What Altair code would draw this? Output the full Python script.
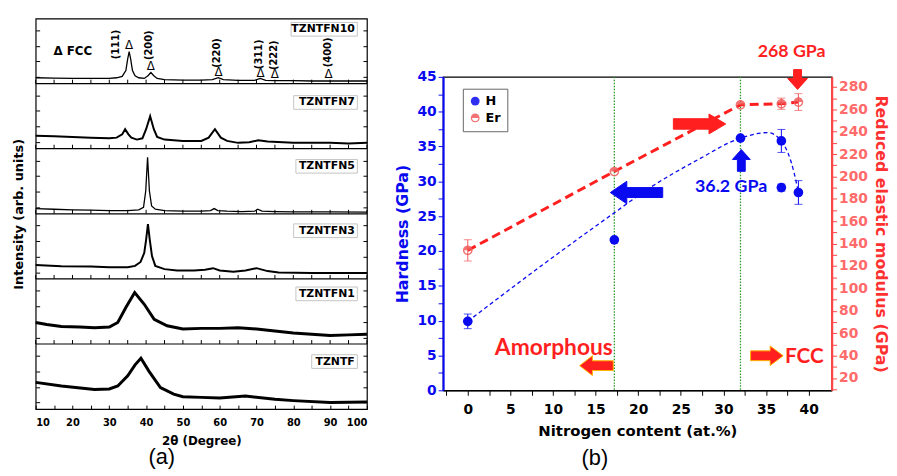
import altair as alt
import pandas as pd

# ---------------- panel (a): XRD patterns ----------------
samples = ["TZNTF", "TZNTFN1", "TZNTFN3", "TZNTFN5", "TZNTFN7", "TZNTFN10"]  # bottom -> top
trace_width = [3.0, 3.0, 2.0, 1.3, 2.0, 1.3]

theta_tzntf = [10, 17, 26, 30, 32.3, 35, 37, 38.6, 40.8, 43.9, 47.5, 50, 55, 60, 67, 75, 80, 90, 100]
int_tzntf = [.41, .355, .30, .31, .355, .51, .68, .78, .58, .33, .23, .19, .18, .17, .2, .15, .13, .1, .11]

theta_n1 = [10, 13, 17, 22, 26, 30, 32.3, 34.5, 36.9, 39.5, 42.2, 45.7, 50, 55, 60, 65, 70, 75, 80, 85, 90, 95, 100]
int_n1 = [.33, .3, .27, .26, .25, .26, .33, .56, .79, .61, .38, .28, .23, .24, .24, .25, .23, .2, .17, .15, .13, .14, .15]

theta_n3 = [10, 17, 25, 30, 35, 37, 38.5, 39.5, 40.0, 40.5, 41.0, 41.6, 42.5, 45, 48.4, 53, 56, 58.2, 60, 63.7, 67, 70, 73, 76, 85, 100]
int_n3 = [.215, .195, .19, .18, .18, .2, .26, .4, .6, .84, .6, .35, .2, .15, .13, .13, .14, .165, .13, .11, .13, .165, .12, .1, .09, .09]

theta_n5 = [10, 15, 20, 25, 30, 35, 38, 39.3, 39.9, 40.4, 40.9, 41.5, 42.5, 45, 50, 55, 57.5, 58.5, 59.5, 62, 66, 69.5, 70.3, 71.5, 75, 80, 90, 100]
int_n5 = [.08, .07, .06, .055, .05, .05, .06, .1, .35, .87, .35, .12, .07, .05, .04, .04, .05, .08, .05, .04, .035, .04, .07, .04, .035, .03, .03, .025]

theta_n7 = [10, 15, 20, 25, 30, 32, 33.5, 34.3, 35.2, 36, 37.5, 39, 40, 41.1, 42.1, 43, 45, 50, 55, 57, 58.7, 60.3, 62, 65, 68, 70.5, 73, 80, 85, 90, 95, 100]
int_n7 = [.2, .19, .18, .17, .16, .17, .22, .3, .22, .17, .14, .16, .3, .5, .3, .18, .14, .12, .12, .17, .3, .17, .12, .09, .1, .13, .11, .09, .09, .09, .08, .09]

theta_n10 = [10, 15, 20, 25, 30, 32, 33.5, 34.5, 35.0, 35.4, 35.8, 36.3, 37, 38, 39.5, 40.5, 41.3, 42.1, 43, 45, 50, 55, 58, 59.6, 61, 65, 69.5, 71, 72.5, 75, 80, 85, 90, 95, 100]
int_n10 = [.09, .085, .08, .08, .08, .09, .11, .2, .38, .49, .38, .2, .12, .09, .08, .12, .17, .12, .08, .06, .055, .055, .06, .09, .06, .05, .05, .08, .05, .045, .045, .04, .04, .04, .04]

theta_all = [theta_tzntf, theta_n1, theta_n3, theta_n5, theta_n7, theta_n10]
int_all = [int_tzntf, int_n1, int_n3, int_n5, int_n7, int_n10]

label_theta = 96.7
label_frac = [0.73, 0.77, 0.74, 0.73, 0.71, 0.835]
box_left_theta = [85.0, 80.7, 80.1, 80.7, 80.1, 79.4]
box_right_theta = 97.4
box_half = 0.105

hkl = ["(111)", "(200)", "(220)", "(311)", "(222)", "(400)"]
hkl_theta = [31.8, 40.9, 59.4, 70.7, 74.8, 89.5]
hkl_frac = [0.60, 0.59, 0.47, 0.45, 0.435, 0.48]
tri_theta = [35.4, 41.3, 59.7, 71.1, 75.0, 89.6]
tri_frac = [0.60, 0.27, 0.18, 0.17, 0.14, 0.14]

sep_values = [1, 2, 3, 4, 5]
theta_ticks = list(range(10, 101, 5))
band_tick_frac = [0.1, 0.34, 0.58, 0.82]

lab_df = pd.DataFrame({"name": samples, "theta": [label_theta] * 6,
                       "pos": [i + f for i, f in enumerate(label_frac)]})
box_df = pd.DataFrame({"x1": box_left_theta, "x2": [box_right_theta] * 6,
                       "y1": [i + f - box_half for i, f in enumerate(label_frac)],
                       "y2": [i + f + box_half for i, f in enumerate(label_frac)]})
hkl_df = pd.DataFrame({"t": hkl, "theta": hkl_theta, "pos": [5 + f for f in hkl_frac]})
tri_df = pd.DataFrame({"t": ["Δ"] * 6, "theta": tri_theta, "pos": [5 + f for f in tri_frac]})
fcc_df = pd.DataFrame({"t": ["Δ FCC"], "theta": [20.1], "pos": [5.5]})
sep_df = pd.DataFrame({"b": sep_values})
septick_df = pd.DataFrame([{"theta": t, "b": b} for b in sep_values for t in theta_ticks])
ytick_vals = [i + f for i in range(6) for f in band_tick_frac]

FA = "DejaVu Sans"
xa = alt.Scale(domain=[10, 100], nice=False, zero=False)
ya = alt.Scale(domain=[0, 6], nice=False, zero=False)

a_layers = []
for i, s in enumerate(samples):
    tdf = pd.DataFrame({"theta": theta_all[i], "pos": [i + f for f in int_all[i]]})
    if i == 0:
        xax = alt.Axis(values=theta_ticks, labelExpr="datum.value % 10 == 0 ? datum.label : ''",
                       offset=-4, tickSize=4, domain=False, tickColor="black",
                       labelFont=FA, labelFontSize=10, labelFontWeight="bold", labelColor="black",
                       labelPadding=9, title="2θ (Degree)", titleFont=FA, titleFontSize=12,
                       titleFontWeight="bold", titlePadding=8)
        yax = alt.Axis(values=ytick_vals, offset=-4, tickSize=4, domain=False, labels=False,
                       tickColor="black", title="Intensity (arb. units)", titleFont=FA,
                       titleFontSize=13, titleFontWeight="bold", titlePadding=10)
    else:
        xax = None
        yax = None
    a_layers.append(alt.Chart(tdf).mark_line(color="black", strokeWidth=trace_width[i]).encode(
        x=alt.X("theta:Q", scale=xa, axis=xax), y=alt.Y("pos:Q", scale=ya, axis=yax)))

seps = alt.Chart(sep_df).mark_rule(color="black", strokeWidth=1.2).encode(
    y=alt.Y("b:Q", scale=ya, axis=alt.Axis(
        orient="right", values=ytick_vals, offset=-4, tickSize=4, domain=False, labels=False,
        tickColor="black", title=None)))

septicks = alt.Chart(septick_df).mark_rule(color="black", y2Offset=-4).encode(
    x=alt.X("theta:Q", scale=xa, axis=None),
    y=alt.Y("b:Q", scale=ya, axis=None),
    y2="b:Q")

boxes = alt.Chart(box_df).mark_rect(fill="white", stroke="#c4c4c4", strokeWidth=1).encode(
    x=alt.X("x1:Q", scale=xa, axis=None), x2="x2:Q",
    y=alt.Y("y1:Q", scale=ya, axis=None), y2="y2:Q")

labels_a = alt.Chart(lab_df).mark_text(align="right", font=FA, fontSize=11, fontWeight="bold", color="black").encode(
    x=alt.X("theta:Q", scale=xa, axis=None), y=alt.Y("pos:Q", scale=ya, axis=None), text="name:N")

hkl_layer = alt.Chart(hkl_df).mark_text(angle=270, font=FA, fontSize=10, fontWeight="bold", color="black").encode(
    x=alt.X("theta:Q", scale=xa, axis=None), y=alt.Y("pos:Q", scale=ya, axis=None), text="t:N")

tri_layer = alt.Chart(tri_df).mark_text(font=FA, fontSize=12, color="black").encode(
    x=alt.X("theta:Q", scale=xa, axis=None), y=alt.Y("pos:Q", scale=ya, axis=None), text="t:N")

fcc_layer = alt.Chart(fcc_df).mark_text(font=FA, fontSize=12, fontWeight="bold", color="black").encode(
    x=alt.X("theta:Q", scale=xa, axis=None), y=alt.Y("pos:Q", scale=ya, axis=None), text="t:N")

left = alt.layer(*a_layers, seps, septicks, boxes, labels_a, hkl_layer, tri_layer, fcc_layer).resolve_axis(
    x="independent", y="independent").properties(
    width=335, height=395,
    title=alt.TitleParams("(a)", orient="bottom", fontSize=22, fontWeight="normal",
                          font="Liberation Sans", color="black", offset=1, dx=-40))

# ---------------- panel (b): hardness & modulus ----------------
BLUE = "#0a0af0"
RED = "#ff1f1f"
ER_RED = "#f05a5a"
GREEN = "#2a9a2a"

n_H = [0, 17.2, 32.0, 36.8, 36.8, 38.8]
H = [9.9, 21.6, 36.2, 35.8, 29.1, 28.4]
H_err = [1.05, 0, 0, 1.65, 0.5, 1.7]

n_Er = [0, 17.2, 32.0, 36.8, 38.8]
Er = [134, 204.5, 264, 265, 266.5]
Er_err = [9.5, 0, 0, 5, 7.5]

fit_n = [0, 8, 17.1, 21.4, 27, 32, 35.2, 36.8, 38.3, 38.8]
fit_H = [9.9, 17.3, 25.4, 29.1, 33.1, 36.2, 37.0, 35.8, 31.2, 28.4]

vlines = [17.2, 32.0]

arrow_n = [27.2, 19.8, 32.1, 38.7, 15.1, 35.1]
arrow_H = [38.24, 28.39, 33.0, 44.62, 3.54, 4.96]
arrow_path = [
    "M-1,-0.2 L0.36,-0.2 L0.36,-0.38 L1,0 L0.36,0.38 L0.36,0.2 L-1,0.2 Z",
    "M1,-0.19 L-0.37,-0.19 L-0.37,-0.43 L-1,0 L-0.37,0.43 L-0.37,0.19 L1,0.19 Z",
    "M-0.36,1 L-0.36,-0.09 L-0.82,-0.09 L0,-1 L0.82,-0.09 L0.36,-0.09 L0.36,1 Z",
    "M-0.4,-1 L0.4,-1 L0.4,-0.1 L1,-0.1 L0,1 L-1,-0.1 L-0.4,-0.1 Z",
    "M1,-0.29 L-0.24,-0.29 L-0.24,-0.59 L-1,0 L-0.24,0.59 L-0.24,0.29 L1,0.29 Z",
    "M-1,-0.3 L0.2,-0.3 L0.2,-0.6 L1,0 L0.2,0.6 L0.2,0.3 L-1,0.3 Z",
]
arrow_size = [2809, 2809, 484, 400, 1156, 1089]
arrow_fill = [RED, BLUE, BLUE, RED, RED, RED]
arrow_stroke = [RED, BLUE, BLUE, RED, "#ffb400", "#ffb400"]

note_text = ["268 GPa", "36.2 GPa", "Amorphous", "FCC"]
note_n = [38.0, 30.9, 10.1, 39.5]
note_H = [48.6, 29.24, 6.13, 4.7]
note_color = [RED, BLUE, RED, RED]
note_size = [18, 18, 23, 21]

ER_SHAPE = ("M1,0 A1,1 0 1,1 -1,0 A1,1 0 1,1 1,0 Z "
            "M0.72,0 A0.72,0.72 0 1,0 -0.72,0 A0.72,0.72 0 1,0 0.72,0 Z "
            "M-1,0 A1,1 0 0,1 1,0 Z")

xs = alt.Scale(domain=[-2.9, 42.7], nice=False, zero=False)
hs = alt.Scale(domain=[0, 45], nice=False, zero=False)
es = alt.Scale(domain=[9, 289], nice=False, zero=False)
FB = "DejaVu Sans"
FN = "Lato"

h_df = pd.DataFrame({"n": n_H, "v": H, "err": H_err, "series": "H"})
h_df["lo"] = h_df.v - h_df.err
h_df["hi"] = h_df.v + h_df.err
h_eb = h_df[h_df.err > 0]
e_df = pd.DataFrame({"n": n_Er, "v": Er, "err": Er_err, "series": "Er"})
e_df["lo"] = e_df.v - e_df.err
e_df["hi"] = e_df.v + e_df.err
e_eb = e_df[e_df.err > 0]
fit_df = pd.DataFrame({"n": fit_n, "v": fit_H})
vl_df = pd.DataFrame({"n": vlines})


def X(axis=None):
    return alt.X("n:Q", scale=xs, axis=axis)


def YH(field="v", axis=None):
    return alt.Y(f"{field}:Q", scale=hs, axis=axis)


def YE(field="v", axis=None):
    return alt.Y(f"{field}:Q", scale=es, axis=axis)


x_axis = alt.Axis(values=[k * 2.5 for k in range(-1, 17)],
                  labelExpr="datum.value % 5 == 0 ? datum.label : ''",
                  tickSize=5, tickColor="black", domainColor="black", domainWidth=1.5,
                  labelFont=FB, labelFontSize=14, labelFontWeight="bold", labelColor="black",
                  labelPadding=7,
                  title="Nitrogen content (at.%)", titleFont=FB, titleFontSize=15,
                  titleFontWeight="bold", titleColor="black", titlePadding=8)
h_axis = alt.Axis(values=[k * 2.5 for k in range(0, 19)],
                  labelExpr="datum.value % 5 == 0 ? datum.label : ''",
                  tickSize=5, tickColor=BLUE, domainColor=BLUE, domainWidth=2.2,
                  labelFont=FB, labelFontSize=14, labelFontWeight="bold", labelColor=BLUE,
                  title="Hardness (GPa)", titleFont=FB, titleFontSize=16, titleFontWeight="bold",
                  titleColor=BLUE, titlePadding=6)
e_axis = alt.Axis(orient="right", values=[10 * k for k in range(1, 29)],
                  labelExpr="datum.value % 20 == 0 ? datum.label : ''",
                  tickSize=5, tickColor="#ff4545", domainColor="#ff4545", domainWidth=2.2,
                  labelFont=FB, labelFontSize=14, labelFontWeight="bold", labelColor="#ff6a6a",
                  title="Reduced elastic modulus (GPa)", titleFont=FB, titleFontSize=16,
                  titleFontWeight="bold", titleColor="#ff3030", titlePadding=5)

series_scale_c = alt.Scale(domain=["H", "Er"], range=[BLUE, ER_RED])
series_scale_s = alt.Scale(domain=["H", "Er"], range=["circle", ER_SHAPE])
leg = alt.Legend(title=None, orient="none", legendX=20, legendY=12, fillColor="white",
                 strokeColor="#666", padding=6, labelFont=FB, labelFontSize=13,
                 labelFontWeight="bold", labelColor="black", symbolSize=80, rowPadding=3)

vl_layer = alt.Chart(vl_df).mark_rule(color=GREEN, strokeDash=[1.5, 1.5], strokeWidth=1.3).encode(x=X())
fit_layer = alt.Chart(fit_df).mark_line(color=BLUE, strokeDash=[4, 3], strokeWidth=1.3,
                                        interpolate="monotone").encode(x=X(x_axis), y=YH(axis=h_axis))
er_line = alt.Chart(e_df).mark_line(color=RED, strokeDash=[9, 5], strokeWidth=3).encode(
    x=X(), y=YE(axis=e_axis))
er_bar = alt.Chart(e_eb).mark_rule(color=ER_RED, strokeWidth=1).encode(x=X(), y=YE("lo"), y2="hi:Q")
er_cap1 = alt.Chart(e_eb).mark_tick(orient="horizontal", size=8, thickness=1, color=ER_RED).encode(x=X(), y=YE("lo"))
er_cap2 = alt.Chart(e_eb).mark_tick(orient="horizontal", size=8, thickness=1, color=ER_RED).encode(x=X(), y=YE("hi"))
er_pts = alt.Chart(e_df).mark_point(filled=True, size=95, opacity=0.85).encode(
    x=X(), y=YE(), color=alt.Color("series:N", scale=series_scale_c, legend=leg),
    shape=alt.Shape("series:N", scale=series_scale_s, legend=leg))
h_bar = alt.Chart(h_eb).mark_rule(color=BLUE, strokeWidth=1).encode(x=X(), y=YH("lo"), y2="hi:Q")
h_cap1 = alt.Chart(h_eb).mark_tick(orient="horizontal", size=8, thickness=1, color=BLUE).encode(x=X(), y=YH("lo"))
h_cap2 = alt.Chart(h_eb).mark_tick(orient="horizontal", size=8, thickness=1, color=BLUE).encode(x=X(), y=YH("hi"))
h_pts = alt.Chart(h_df).mark_point(filled=True, size=95, opacity=1).encode(
    x=X(), y=YH(), color=alt.Color("series:N", scale=series_scale_c, legend=leg),
    shape=alt.Shape("series:N", scale=series_scale_s, legend=leg))

layers = [vl_layer, fit_layer, er_line, er_bar, er_cap1, er_cap2, er_pts, h_bar, h_cap1, h_cap2, h_pts]

for i in range(len(arrow_n)):
    adf = pd.DataFrame({"n": [arrow_n[i]], "v": [arrow_H[i]]})
    layers.append(alt.Chart(adf).mark_point(shape=arrow_path[i], size=arrow_size[i], filled=True,
                                            fill=arrow_fill[i], stroke=arrow_stroke[i],
                                            strokeWidth=1, opacity=1).encode(x=X(), y=YH()))

for i in range(len(note_text)):
    tdf = pd.DataFrame({"n": [note_n[i]], "v": [note_H[i]], "t": [note_text[i]]})
    layers.append(alt.Chart(tdf).mark_text(font=FN, fontSize=note_size[i], fontWeight="bold",
                                           color=note_color[i]).encode(x=X(), y=YH(), text="t:N"))

right = alt.layer(*layers).resolve_scale(y="independent").resolve_axis(
    x="independent", y="independent").properties(
    width=393, height=317,
    title=alt.TitleParams("(b)", orient="bottom", fontSize=22, fontWeight="normal",
                          font="Liberation Sans", color="black", offset=10, dx=-43))

spacer = alt.Chart(pd.DataFrame({"n": [0]})).mark_point(opacity=0).encode(
    x=alt.X("n:Q", axis=None), y=alt.Y("n:Q", axis=None)).properties(
    width=393, height=24, view=alt.ViewBackground(strokeOpacity=0))

right_col = alt.vconcat(spacer, right, spacing=0).resolve_legend(color="independent", shape="independent")

chart = alt.hconcat(left, right_col, spacing=20).resolve_legend(
    color="independent", shape="independent").properties(
    padding={"left": 3, "top": 7, "right": 0, "bottom": 0}
).configure_view(stroke="black", strokeWidth=1.2).configure_axis(grid=False)

chart.save("out.html", embed_options={"renderer": "svg", "actions": False})
